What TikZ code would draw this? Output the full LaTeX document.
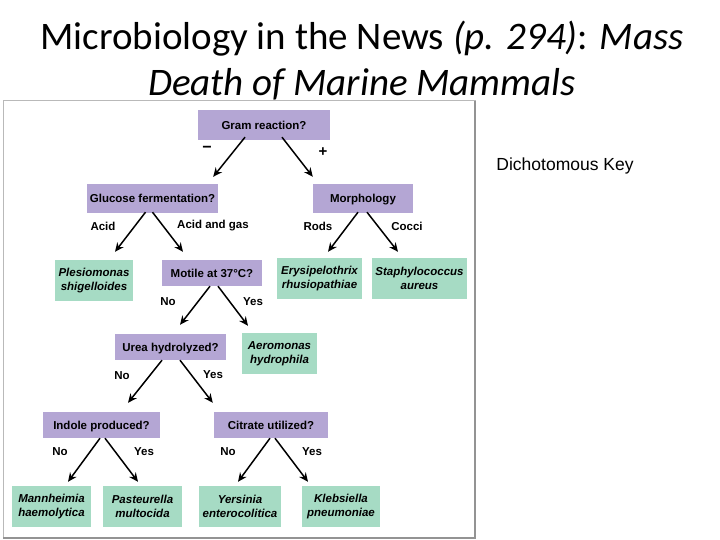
\documentclass[tikz,border=0pt]{standalone}
\usepackage{fontspec}
\setmainfont{Carlito}
\newfontfamily\keyfont{Liberation Sans}
\usetikzlibrary{arrows.meta}

\definecolor{qpurple}{RGB}{180,166,212}
\definecolor{qgreen}{RGB}{166,219,196}

\tikzset{
  question/.style = {fill = qpurple, inner sep = 0pt, align = center,
    text height = 8.3pt, text depth = 0pt,
    font = \keyfont\bfseries\fontsize{11.5}{13.5}\selectfont},
  result/.style = {fill = qgreen, inner sep = 0pt, align = center,
    font = \keyfont\bfseries\itshape\fontsize{11.5}{14}\selectfont},
  answer/.style = {font = \keyfont\bfseries\fontsize{11.5}{13}\selectfont},
  branch/.style = {-{Stealth[length=9pt,width=8pt]}, line width = 1.5pt},
}

\begin{document}
\begin{tikzpicture}[x = 1pt, y = -1pt]
    \useasboundingbox (0,0) rectangle (720,540);

    % title
    \node[font = \fontsize{39}{46}\selectfont, align = center] (title) at (362,61)
      {Microbiology in the News \textit{(p. 294)}: \textit{Mass}\\
       \textit{Death of Marine Mammals}};
    \node[font = \keyfont\fontsize{17.5}{20}\selectfont] (keyname) at (565,166) {Dichotomous Key};

    % frame of the key
    \draw[gray!55, line width = 1pt] (3,101) rectangle (475,538);
    \draw[gray!85, line width = 1.4pt] (475,101) -- (475,538) -- (3,538);

    % questions
    \node[question, minimum width = 132pt, minimum height = 30pt] (gram) at (264,125) {Gram reaction?};
    \node[question, minimum width = 131pt, minimum height = 29pt] (glucose) at (152.5,198.5) {Glucose fermentation?};
    \node[question, minimum width = 100pt, minimum height = 29pt] (morph) at (363,198.5) {Morphology};
    \node[question, minimum width = 100pt, minimum height = 26pt] (motile) at (212,273) {Motile at 37\textdegree C?};
    \node[question, minimum width = 111pt, minimum height = 26pt] (urea) at (170.5,347) {Urea hydrolyzed?};
    \node[question, minimum width = 117pt, minimum height = 26pt] (indole) at (101.5,425) {Indole produced?};
    \node[question, minimum width = 114pt, minimum height = 26pt] (citrate) at (271,425) {Citrate utilized?};

    % organisms
    \node[result, minimum width = 78pt, minimum height = 41pt] (plesio) at (94,280.5) {Plesiomonas\\shigelloides};
    \node[result, minimum width = 85pt, minimum height = 41pt] (erysi) at (319.5,278.5) {Erysipelothrix\\rhusiopathiae};
    \node[result, minimum width = 95pt, minimum height = 41pt] (staph) at (419.5,278.5) {Staphylococcus\\aureus};
    \node[result, minimum width = 75pt, minimum height = 41pt] (aero) at (279.5,353.5) {Aeromonas\\hydrophila};
    \node[result, minimum width = 79pt, minimum height = 41pt] (mann) at (51.5,506.5) {Mannheimia\\haemolytica};
    \node[result, minimum width = 79pt, minimum height = 41pt] (past) at (142.5,506.5) {Pasteurella\\multocida};
    \node[result, minimum width = 82pt, minimum height = 41pt] (yers) at (240,506.5) {Yersinia\\enterocolitica};
    \node[result, minimum width = 78pt, minimum height = 41pt] (kleb) at (341,506.5) {Klebsiella\\pneumoniae};

    % answers
    \node[answer, font = \keyfont\bfseries\fontsize{16}{16}\selectfont] (neg) at (207,149) {\textminus};
    \node[answer, font = \keyfont\bfseries\fontsize{15}{15}\selectfont] (pos) at (323,152) {+};
    \node[answer] (acid) at (103,226) {Acid};
    \node[answer] (acidgas) at (213,226) {Acid and gas};
    \node[answer] (rods) at (318,226) {Rods};
    \node[answer] (cocci) at (407,226) {Cocci};
    \node[answer] (motno) at (168,302) {No};
    \node[answer] (motyes) at (253,302) {Yes};
    \node[answer] (ureano) at (122,376) {No};
    \node[answer] (ureayes) at (213,375) {Yes};
    \node[answer] (indno) at (60,452) {No};
    \node[answer] (indyes) at (144,452) {Yes};
    \node[answer] (citno) at (228,452) {No};
    \node[answer] (cityes) at (312,452) {Yes};

    % branches
    \draw[branch] ([xshift = -19pt, yshift = 3pt]gram.south) -- ([xshift = -5pt, yshift = 7pt]glucose.north east);
    \draw[branch] ([xshift = 18pt, yshift = 3pt]gram.south) -- ([yshift = 7pt]morph.north west);
    \draw[branch] ([xshift = -7pt, yshift = 1pt]glucose.south) -- ([xshift = 21pt, yshift = 8pt]plesio.north);
    \draw[branch] ([yshift = 1pt]glucose.south) -- ([xshift = -29pt, yshift = 8pt]motile.north);
    \draw[branch] ([xshift = -5pt, yshift = 1pt]morph.south) -- ([xshift = 8.5pt, yshift = 6pt]erysi.north);
    \draw[branch] ([xshift = 4pt, yshift = 1pt]morph.south) -- ([xshift = -21.5pt, yshift = 6pt]staph.north);
    \draw[branch] ([xshift = -2pt]motile.south) -- ([xshift = 9.5pt, yshift = 9pt]urea.north);
    \draw[branch] ([xshift = 6pt]motile.south) -- ([xshift = -31.5pt, yshift = 7pt]aero.north);
    \draw[branch] ([xshift = -8.5pt]urea.south) -- ([xshift = 26.5pt, yshift = 9pt]indole.north);
    \draw[branch] ([xshift = 9.5pt]urea.south) -- ([xshift = -1pt, yshift = 9pt]citrate.north west);
    \draw[branch] ([xshift = -1.5pt]indole.south) -- ([xshift = 16.5pt, yshift = 4pt]mann.north);
    \draw[branch] ([xshift = 3.5pt]indole.south) -- ([xshift = -4.5pt, yshift = 4pt]past.north);
    \draw[branch] ([xshift = -1pt]citrate.south) -- ([xshift = -2pt, yshift = 4pt]yers.north);
    \draw[branch] ([xshift = 4pt]citrate.south) -- ([xshift = -33pt, yshift = 4pt]kleb.north);
\end{tikzpicture}
\end{document}
